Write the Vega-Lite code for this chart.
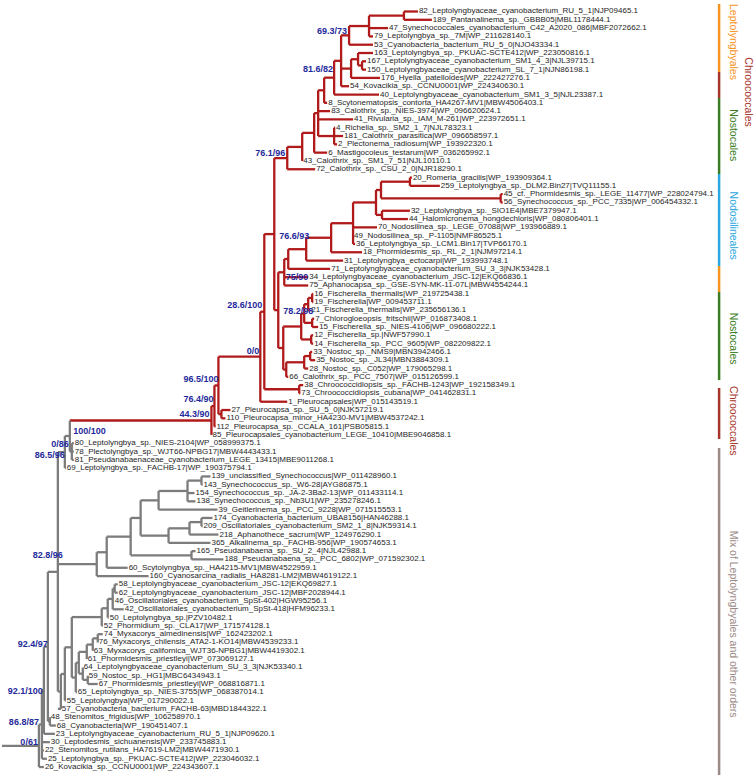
{
"$schema":"https://vega.github.io/schema/vega-lite/v6.json",
"width":756,"height":777,"padding":0,
"autosize":{"type":"fit","contains":"padding"},
"background":"white",
"config":{"view":{"stroke":null},"font":"Liberation Sans"},
"datasets":{
"nodes":[
{"px":368,"x":403,"y":0.5,"y1":0,"y2":1,"g":"r"},
{"px":348,"x":368,"y":1.75,"y1":0.5,"y2":3,"g":"r"},
{"px":340,"x":348,"y":2.875,"y1":1.75,"y2":4,"g":"r"},
{"px":357,"x":361,"y":6.5,"y1":6,"y2":7,"g":"r"},
{"px":350,"x":357,"y":5.75,"y1":5,"y2":6.5,"g":"r"},
{"px":340,"x":350,"y":6.875,"y1":5.75,"y2":8,"g":"r"},
{"px":333,"x":340,"y":5.94,"y1":2.875,"y2":9,"g":"r"},
{"px":323,"x":333,"y":7.97,"y1":5.94,"y2":10,"g":"r"},
{"px":317,"x":323,"y":9.49,"y1":7.97,"y2":11,"g":"r"},
{"px":317,"x":333,"y":15,"y1":14,"y2":16,"g":"r"},
{"px":313,"x":317,"y":12.24,"y1":9.49,"y2":15,"g":"r"},
{"px":301,"x":313,"y":14.62,"y1":12.24,"y2":17,"g":"r"},
{"px":286,"x":301,"y":16.31,"y1":14.62,"y2":18,"g":"r"},
{"px":273,"x":286,"y":17.66,"y1":16.31,"y2":19,"g":"r"},
{"px":380,"x":409,"y":20.5,"y1":20,"y2":21,"g":"r"},
{"px":380,"x":500,"y":22.5,"y1":22,"y2":23,"g":"r"},
{"px":375,"x":380,"y":21.5,"y1":20.5,"y2":22.5,"g":"r"},
{"px":375,"x":381,"y":24.5,"y1":24,"y2":25,"g":"r"},
{"px":352,"x":375,"y":23,"y1":21.5,"y2":24.5,"g":"r"},
{"px":330,"x":352,"y":25.5,"y1":23,"y2":28,"g":"r"},
{"px":305,"x":330,"y":27.25,"y1":25.5,"y2":29,"g":"r"},
{"px":287,"x":305,"y":28.63,"y1":27.25,"y2":30,"g":"r"},
{"px":283,"x":287,"y":29.81,"y1":28.63,"y2":31,"g":"r"},
{"px":277,"x":283,"y":31.41,"y1":29.81,"y2":33,"g":"r"},
{"px":307,"x":311,"y":34.5,"y1":34,"y2":35,"g":"r"},
{"px":303,"x":307,"y":35.25,"y1":34.5,"y2":36,"g":"r"},
{"px":303,"x":311,"y":37.5,"y1":37,"y2":38,"g":"r"},
{"px":300,"x":303,"y":36.38,"y1":35.25,"y2":37.5,"g":"r"},
{"px":300,"x":310,"y":39.5,"y1":39,"y2":40,"g":"r"},
{"px":282,"x":300,"y":37.94,"y1":36.38,"y2":39.5,"g":"r"},
{"px":303,"x":309,"y":41.5,"y1":41,"y2":42,"g":"r"},
{"px":285,"x":303,"y":42.25,"y1":41.5,"y2":43,"g":"r"},
{"px":282,"x":285,"y":43.13,"y1":42.25,"y2":44,"g":"r"},
{"px":277,"x":282,"y":40.53,"y1":37.94,"y2":43.13,"g":"r"},
{"px":273,"x":277,"y":35.97,"y1":31.41,"y2":40.53,"g":"r"},
{"px":263,"x":273,"y":26.81,"y1":17.66,"y2":35.97,"g":"r"},
{"px":263,"x":298,"y":45.5,"y1":45,"y2":46,"g":"r"},
{"px":259,"x":263,"y":36.16,"y1":26.81,"y2":45.5,"g":"r"},
{"px":217,"x":259,"y":41.58,"y1":36.16,"y2":47,"g":"r"},
{"px":217,"x":220,"y":48.5,"y1":48,"y2":49,"g":"r"},
{"px":213,"x":217,"y":45.04,"y1":41.58,"y2":48.5,"g":"r"},
{"px":210,"x":213,"y":47.52,"y1":45.04,"y2":50,"g":"r"},
{"px":68,"x":210,"y":49.26,"y1":47.52,"y2":51,"g":"r"},
{"px":68,"x":70,"y":53,"y1":52,"y2":54,"g":"k"},
{"px":63,"x":68,"y":51.13,"y1":49.26,"y2":53,"g":"k"},
{"px":56,"x":63,"y":53.07,"y1":51.13,"y2":55,"g":"k"},
{"px":186,"x":200,"y":56.5,"y1":56,"y2":57,"g":"k"},
{"px":157,"x":186,"y":57.75,"y1":56.5,"y2":59,"g":"k"},
{"px":139,"x":157,"y":58.88,"y1":57.75,"y2":60,"g":"k"},
{"px":188,"x":200,"y":61.5,"y1":61,"y2":62,"g":"k"},
{"px":167,"x":188,"y":62.25,"y1":61.5,"y2":63,"g":"k"},
{"px":139,"x":167,"y":63.13,"y1":62.25,"y2":64,"g":"k"},
{"px":129,"x":139,"y":61,"y1":58.88,"y2":63.13,"g":"k"},
{"px":129,"x":190,"y":65.5,"y1":65,"y2":66,"g":"k"},
{"px":105,"x":129,"y":63.25,"y1":61,"y2":65.5,"g":"k"},
{"px":95,"x":105,"y":65.13,"y1":63.25,"y2":67,"g":"k"},
{"px":56,"x":95,"y":66.56,"y1":65.13,"y2":68,"g":"k"},
{"px":111,"x":113,"y":69.5,"y1":69,"y2":70,"g":"k"},
{"px":106,"x":111,"y":70.75,"y1":69.5,"y2":72,"g":"k"},
{"px":100,"x":106,"y":71.88,"y1":70.75,"y2":73,"g":"k"},
{"px":70,"x":100,"y":72.94,"y1":71.88,"y2":74,"g":"k"},
{"px":91,"x":96,"y":75.5,"y1":75,"y2":76,"g":"k"},
{"px":85,"x":91,"y":76.25,"y1":75.5,"y2":77,"g":"k"},
{"px":77,"x":85,"y":77.13,"y1":76.25,"y2":78,"g":"k"},
{"px":81,"x":86,"y":80.5,"y1":80,"y2":81,"g":"k"},
{"px":77,"x":81,"y":79.75,"y1":79,"y2":80.5,"g":"k"},
{"px":74,"x":77,"y":78.44,"y1":77.13,"y2":79.75,"g":"k"},
{"px":70,"x":74,"y":80.22,"y1":78.44,"y2":82,"g":"k"},
{"px":63,"x":70,"y":76.58,"y1":72.94,"y2":80.22,"g":"k"},
{"px":59,"x":63,"y":79.79,"y1":76.58,"y2":83,"g":"k"},
{"px":56,"x":59,"y":81.9,"y1":79.79,"y2":84,"g":"k"},
{"px":46,"x":56,"y":67.49,"y1":53.07,"y2":81.9,"g":"k"},
{"px":46,"x":48,"y":85.5,"y1":85,"y2":86,"g":"k"},
{"px":42,"x":46,"y":76.5,"y1":67.49,"y2":85.5,"g":"k"},
{"px":40,"x":42,"y":81.75,"y1":76.5,"y2":87,"g":"k"},
{"px":37,"x":40,"y":85.88,"y1":81.75,"y2":90,"g":"k"},
{"px":0,"x":37,"y":88.44,"y1":85.88,"y2":91,"g":"k"},
{"px":403,"x":417,"y":0,"y1":0,"y2":0,"g":"r","lab":"82_Leptolyngbyaceae_cyanobacterium_RU_5_1|NJP09465.1"},
{"px":403,"x":431,"y":1,"y1":1,"y2":1,"g":"r","lab":"189_Pantanalinema_sp._GBBB05|MBL1178444.1"},
{"px":368,"x":387,"y":2,"y1":2,"y2":2,"g":"r","lab":"47_Synechococcales_cyanobacterium_C42_A2020_086|MBF2072662.1"},
{"px":368,"x":372,"y":3,"y1":3,"y2":3,"g":"r","lab":"79_Leptolyngbya_sp._7M|WP_211628140.1"},
{"px":348,"x":372,"y":4,"y1":4,"y2":4,"g":"r","lab":"53_Cyanobacteria_bacterium_RU_5_0|NJO43334.1"},
{"px":357,"x":372,"y":5,"y1":5,"y2":5,"g":"r","lab":"163_Leptolyngbya_sp._PKUAC-SCTE412|WP_223050816.1"},
{"px":361,"x":365,"y":6,"y1":6,"y2":6,"g":"r","lab":"167_Leptolyngbyaceae_cyanobacterium_SM1_4_3|NJL39715.1"},
{"px":361,"x":365,"y":7,"y1":7,"y2":7,"g":"r","lab":"150_Leptolyngbyaceae_cyanobacterium_SL_7_1|NJN86198.1"},
{"px":350,"x":379,"y":8,"y1":8,"y2":8,"g":"r","lab":"176_Hyella_patelloides|WP_222427276.1"},
{"px":340,"x":348,"y":9,"y1":9,"y2":9,"g":"r","lab":"54_Kovacikia_sp._CCNU0001|WP_224340630.1"},
{"px":333,"x":378,"y":10,"y1":10,"y2":10,"g":"r","lab":"40_Leptolyngbyaceae_cyanobacterium_SM1_3_5|NJL23387.1"},
{"px":323,"x":326,"y":11,"y1":11,"y2":11,"g":"r","lab":"8_Scytonematopsis_contorta_HA4267-MV1|MBW4506403.1"},
{"px":317,"x":329,"y":12,"y1":12,"y2":12,"g":"r","lab":"83_Calothrix_sp._NIES-3974|WP_096620624.1"},
{"px":317,"x":352,"y":13,"y1":13,"y2":13,"g":"r","lab":"41_Rivularia_sp._IAM_M-261|WP_223972651.1"},
{"px":333,"x":334,"y":14,"y1":14,"y2":14,"g":"r","lab":"4_Richelia_sp._SM2_1_7|NJL78323.1"},
{"px":333,"x":342,"y":15,"y1":15,"y2":15,"g":"r","lab":"181_Calothrix_parasitica|WP_096658597.1"},
{"px":333,"x":336,"y":16,"y1":16,"y2":16,"g":"r","lab":"2_Plectonema_radiosum|WP_193922320.1"},
{"px":313,"x":326,"y":17,"y1":17,"y2":17,"g":"r","lab":"6_Mastigocoleus_testarum|WP_036265992.1"},
{"px":301,"x":301,"y":18,"y1":18,"y2":18,"g":"r","lab":"43_Calothrix_sp._SM1_7_51|NJL10110.1"},
{"px":286,"x":314,"y":19,"y1":19,"y2":19,"g":"r","lab":"72_Calothrix_sp._CSU_2_0|NJR18290.1"},
{"px":409,"x":411,"y":20,"y1":20,"y2":20,"g":"r","lab":"20_Romeria_gracilis|WP_193909364.1"},
{"px":409,"x":439,"y":21,"y1":21,"y2":21,"g":"r","lab":"259_Leptolyngbya_sp._DLM2.Bin27|TVQ11155.1"},
{"px":500,"x":502,"y":22,"y1":22,"y2":22,"g":"r","lab":"45_cf._Phormidesmis_sp._LEGE_11477|WP_228024794.1"},
{"px":500,"x":502,"y":23,"y1":23,"y2":23,"g":"r","lab":"56_Synechococcus_sp._PCC_7335|WP_006454332.1"},
{"px":381,"x":409,"y":24,"y1":24,"y2":24,"g":"r","lab":"32_Leptolyngbya_sp._SIO1E4|MBE7379947.1"},
{"px":381,"x":407,"y":25,"y1":25,"y2":25,"g":"r","lab":"44_Halomicronema_hongdechloris|WP_080806401.1"},
{"px":352,"x":376,"y":26,"y1":26,"y2":26,"g":"r","lab":"70_Nodosilinea_sp._LEGE_07088|WP_193966889.1"},
{"px":352,"x":352,"y":27,"y1":27,"y2":27,"g":"r","lab":"49_Nodosilinea_sp._P-1105|NMF86525.1"},
{"px":352,"x":354,"y":28,"y1":28,"y2":28,"g":"r","lab":"36_Leptolyngbya_sp._LCM1.Bin17|TVP66170.1"},
{"px":330,"x":361,"y":29,"y1":29,"y2":29,"g":"r","lab":"18_Phormidesmis_sp._RL_2_1|NJM97214.1"},
{"px":305,"x":342,"y":30,"y1":30,"y2":30,"g":"r","lab":"31_Leptolyngbya_ectocarpi|WP_193993748.1"},
{"px":287,"x":329,"y":31,"y1":31,"y2":31,"g":"r","lab":"71_Leptolyngbyaceae_cyanobacterium_SU_3_3|NJK53428.1"},
{"px":283,"x":307,"y":32,"y1":32,"y2":32,"g":"r","lab":"34_Leptolyngbyaceae_cyanobacterium_JSC-12|EKQ66836.1"},
{"px":283,"x":307,"y":33,"y1":33,"y2":33,"g":"r","lab":"75_Aphanocapsa_sp._GSE-SYN-MK-11-07L|MBW4554244.1"},
{"px":311,"x":312,"y":34,"y1":34,"y2":34,"g":"r","lab":"16_Fischerella_thermalis|WP_219725438.1"},
{"px":311,"x":312,"y":35,"y1":35,"y2":35,"g":"r","lab":"19_Fischerella|WP_009453711.1"},
{"px":307,"x":309,"y":36,"y1":36,"y2":36,"g":"r","lab":"21_Fischerella_thermalis|WP_235656136.1"},
{"px":311,"x":313,"y":37,"y1":37,"y2":37,"g":"r","lab":"7_Chlorogloeopsis_fritschii|WP_016873408.1"},
{"px":311,"x":317,"y":38,"y1":38,"y2":38,"g":"r","lab":"15_Fischerella_sp._NIES-4106|WP_096680222.1"},
{"px":310,"x":312,"y":39,"y1":39,"y2":39,"g":"r","lab":"12_Fischerella_sp.|NWF57990.1"},
{"px":310,"x":312,"y":40,"y1":40,"y2":40,"g":"r","lab":"14_Fischerella_sp._PCC_9605|WP_082209822.1"},
{"px":309,"x":311,"y":41,"y1":41,"y2":41,"g":"r","lab":"33_Nostoc_sp._NMS9|MBN3942466.1"},
{"px":309,"x":314,"y":42,"y1":42,"y2":42,"g":"r","lab":"35_Nostoc_sp._JL34|MBN3884309.1"},
{"px":303,"x":307,"y":43,"y1":43,"y2":43,"g":"r","lab":"28_Nostoc_sp._C052|WP_179065298.1"},
{"px":285,"x":287,"y":44,"y1":44,"y2":44,"g":"r","lab":"66_Calothrix_sp._PCC_7507|WP_015126599.1"},
{"px":298,"x":302,"y":45,"y1":45,"y2":45,"g":"r","lab":"38_Chroococcidiopsis_sp._FACHB-1243|WP_192158349.1"},
{"px":298,"x":299,"y":46,"y1":46,"y2":46,"g":"r","lab":"73_Chroococcidiopsis_cubana|WP_041462831.1"},
{"px":259,"x":286,"y":47,"y1":47,"y2":47,"g":"r","lab":"1_Pleurocapsales|WP_015143519.1"},
{"px":220,"x":229,"y":48,"y1":48,"y2":48,"g":"r","lab":"27_Pleurocapsa_sp._SU_5_0|NJK57219.1"},
{"px":220,"x":224,"y":49,"y1":49,"y2":49,"g":"r","lab":"110_Pleurocapsa_minor_HA4230-MV1|MBW4537242.1"},
{"px":213,"x":214,"y":50,"y1":50,"y2":50,"g":"r","lab":"112_Pleurocapsa_sp._CCALA_161|PSB05815.1"},
{"px":210,"x":210,"y":51,"y1":51,"y2":51,"g":"r","lab":"85_Pleurocapsales_cyanobacterium_LEGE_10410|MBE9046858.1"},
{"px":70,"x":72,"y":52,"y1":52,"y2":52,"g":"k","lab":"80_Leptolyngbya_sp._NIES-2104|WP_058999375.1"},
{"px":70,"x":72,"y":53,"y1":53,"y2":53,"g":"k","lab":"78_Plectolyngbya_sp._WJT66-NPBG17|MBW4443433.1"},
{"px":70,"x":72,"y":54,"y1":54,"y2":54,"g":"k","lab":"81_Pseudanabaenaceae_cyanobacterium_LEGE_13415|MBE9011268.1"},
{"px":63,"x":64,"y":55,"y1":55,"y2":55,"g":"k","lab":"69_Leptolyngbya_sp._FACHB-17|WP_190375794.1"},
{"px":200,"x":209,"y":56,"y1":56,"y2":56,"g":"k","lab":"139_unclassified_Synechococcus|WP_011428960.1"},
{"px":200,"x":201,"y":57,"y1":57,"y2":57,"g":"k","lab":"143_Synechococcus_sp._W6-28|AYG86875.1"},
{"px":186,"x":193,"y":58,"y1":58,"y2":58,"g":"k","lab":"154_Synechococcus_sp._JA-2-3Ba2-13|WP_011433114.1"},
{"px":186,"x":194,"y":59,"y1":59,"y2":59,"g":"k","lab":"138_Synechococcus_sp._Nb3U1|WP_235278246.1"},
{"px":157,"x":216,"y":60,"y1":60,"y2":60,"g":"k","lab":"39_Geitlerinema_sp._PCC_9228|WP_071515553.1"},
{"px":200,"x":211,"y":61,"y1":61,"y2":61,"g":"k","lab":"174_Cyanobacteria_bacterium_UBA8156|HAN46288.1"},
{"px":200,"x":201,"y":62,"y1":62,"y2":62,"g":"k","lab":"209_Oscillatoriales_cyanobacterium_SM2_1_8|NJK59314.1"},
{"px":188,"x":217,"y":63,"y1":63,"y2":63,"g":"k","lab":"218_Aphanothece_sacrum|WP_124976290.1"},
{"px":167,"x":209,"y":64,"y1":64,"y2":64,"g":"k","lab":"365_Alkalinema_sp._FACHB-956|WP_190574653.1"},
{"px":190,"x":194,"y":65,"y1":65,"y2":65,"g":"k","lab":"165_Pseudanabaena_sp._SU_2_4|NJL42988.1"},
{"px":190,"x":222,"y":66,"y1":66,"y2":66,"g":"k","lab":"188_Pseudanabaena_sp._PCC_6802|WP_071592302.1"},
{"px":105,"x":126,"y":67,"y1":67,"y2":67,"g":"k","lab":"60_Scytolyngbya_sp._HA4215-MV1|MBW4522959.1"},
{"px":95,"x":147,"y":68,"y1":68,"y2":68,"g":"k","lab":"160_Cyanosarcina_radialis_HA8281-LM2|MBW4619122.1"},
{"px":113,"x":116,"y":69,"y1":69,"y2":69,"g":"k","lab":"58_Leptolyngbyaceae_cyanobacterium_JSC-12|EKQ69827.1"},
{"px":113,"x":116,"y":70,"y1":70,"y2":70,"g":"k","lab":"62_Leptolyngbyaceae_cyanobacterium_JSC-12|MBF2028944.1"},
{"px":111,"x":112,"y":71,"y1":71,"y2":71,"g":"k","lab":"46_Oscillatoriales_cyanobacterium_SpSt-402|HGW95256.1"},
{"px":111,"x":122,"y":72,"y1":72,"y2":72,"g":"k","lab":"42_Oscillatoriales_cyanobacterium_SpSt-418|HFM96233.1"},
{"px":106,"x":107,"y":73,"y1":73,"y2":73,"g":"k","lab":"50_Leptolyngbya_sp.|PZV10482.1"},
{"px":100,"x":101,"y":74,"y1":74,"y2":74,"g":"k","lab":"52_Phormidium_sp._CLA17|WP_171574128.1"},
{"px":96,"x":101,"y":75,"y1":75,"y2":75,"g":"k","lab":"74_Myxacorys_almedinensis|WP_162423202.1"},
{"px":96,"x":96,"y":76,"y1":76,"y2":76,"g":"k","lab":"76_Myxacorys_chilensis_ATA2-1-KO14|MBW4539233.1"},
{"px":91,"x":91,"y":77,"y1":77,"y2":77,"g":"k","lab":"63_Myxacorys_californica_WJT36-NPBG1|MBW4419302.1"},
{"px":85,"x":85,"y":78,"y1":78,"y2":78,"g":"k","lab":"61_Phormidesmis_priestleyi|WP_073069127.1"},
{"px":81,"x":81,"y":79,"y1":79,"y2":79,"g":"k","lab":"64_Leptolyngbyaceae_cyanobacterium_SU_3_3|NJK53340.1"},
{"px":86,"x":86,"y":80,"y1":80,"y2":80,"g":"k","lab":"59_Nostoc_sp._HG1|MBC6434943.1"},
{"px":86,"x":96,"y":81,"y1":81,"y2":81,"g":"k","lab":"67_Phormidesmis_priestleyi|WP_068816871.1"},
{"px":74,"x":75,"y":82,"y1":82,"y2":82,"g":"k","lab":"65_Leptolyngbya_sp._NIES-3755|WP_068387014.1"},
{"px":63,"x":64,"y":83,"y1":83,"y2":83,"g":"k","lab":"55_Leptolyngbya|WP_017290022.1"},
{"px":56,"x":59,"y":84,"y1":84,"y2":84,"g":"k","lab":"57_Cyanobacteria_bacterium_FACHB-63|MBD1844322.1"},
{"px":48,"x":48,"y":85,"y1":85,"y2":85,"g":"k","lab":"48_Stenomitos_frigidus|WP_106258970.1"},
{"px":48,"x":54,"y":86,"y1":86,"y2":86,"g":"k","lab":"68_Cyanobacteria|WP_190451407.1"},
{"px":42,"x":53,"y":87,"y1":87,"y2":87,"g":"k","lab":"23_Leptolyngbyaceae_cyanobacterium_RU_5_1|NJP09620.1"},
{"px":40,"x":48,"y":88,"y1":88,"y2":88,"g":"k","lab":"30_Leptodesmis_sichuanensis|WP_233745883.1"},
{"px":40,"x":42,"y":89,"y1":89,"y2":89,"g":"k","lab":"22_Stenomitos_rutilans_HA7619-LM2|MBW4471930.1"},
{"px":40,"x":45,"y":90,"y1":90,"y2":90,"g":"k","lab":"25_Leptolyngbya_sp._PKUAC-SCTE412|WP_223046032.1"},
{"px":37,"x":42,"y":91,"y1":91,"y2":91,"g":"k","lab":"26_Kovacikia_sp._CCNU0001|WP_224343607.1"}
],
"boot":[
{"t":"69.3/73","x":346,"y":2.35},
{"t":"81.6/82","x":332,"y":6.93},
{"t":"76.1/96","x":284,"y":17.04},
{"t":"76.6/93","x":308,"y":27.04},
{"t":"75/90","x":307,"y":31.98},
{"t":"78.2/98","x":312,"y":36.07},
{"t":"28.6/100","x":261,"y":35.35},
{"t":"0/0","x":258,"y":40.89},
{"t":"96.5/100","x":217,"y":44.27},
{"t":"76.4/90","x":212,"y":46.68},
{"t":"44.3/90","x":208,"y":48.48},
{"t":"100/100","x":104,"y":50.53},
{"t":"0/86","x":67,"y":52.05},
{"t":"86.5/96","x":63,"y":53.4},
{"t":"82.8/96","x":61,"y":65.47},
{"t":"92.4/97","x":46,"y":76.19},
{"t":"92.1/100","x":41,"y":81.85},
{"t":"86.8/87","x":37,"y":85.58},
{"t":"0/61","x":36,"y":87.99}
],
"bars":[
{"clade":"Leptolyngbyales","a":-0.9,"b":7.29},
{"clade":"Chroococcales","a":7.29,"b":10.42},
{"clade":"Nostocales","a":10.42,"b":19.57},
{"clade":"Nodosilineales","a":19.57,"b":30.66},
{"clade":"Leptolyngbyales","a":30.66,"b":33.79},
{"clade":"Nostocales","a":33.79,"b":44.39},
{"clade":"Chroococcales","a":45.35,"b":51.49},
{"clade":"Mix","a":52.58,"b":91.96}
],
"cladelabels":[
{"clade":"Leptolyngbyales","t":"Leptolyngbyales","m":3.67,"col":"inner"},
{"clade":"Chroococcales","t":"Chroococcales","m":9.7,"col":"outer"},
{"clade":"Nostocales","t":"Nostocales","m":14.9,"col":"inner"},
{"clade":"Nodosilineales","t":"Nodosilineales","m":25.8,"col":"inner"},
{"clade":"Nostocales","t":"Nostocales","m":39.4,"col":"inner"},
{"clade":"Chroococcales","t":"Chroococcales","m":49.3,"col":"inner"},
{"clade":"Mix","t":"Mix of Leptolyngbyales and other orders","m":73.8,"col":"inner"}
]
},
"layer":[
{"data":{"name":"nodes"},"mark":{"type":"rule","strokeWidth":2.3},
 "encoding":{
  "x":{"field":"px","type":"quantitative","scale":{"domain":[0,756],"nice":false,"zero":false},"axis":null},
  "x2":{"field":"x"},
  "y":{"field":"y","type":"quantitative","scale":{"domain":[-1.385,92.2],"nice":false,"zero":false,"reverse":true},"axis":null},
  "color":{"field":"g","type":"nominal","legend":null,"scale":{"domain":["r","k","Leptolyngbyales","Chroococcales","Nostocales","Nodosilineales","Mix"],"range":["#b01a1a","#7c7c7c","#f7931e","#a8352b","#3b7d23","#2aa7e0","#9c8a86"]}}
 }},
{"data":{"name":"nodes"},"transform":[{"filter":"datum.y1 < datum.y2"}],"mark":{"type":"rule","strokeWidth":2.3},
 "encoding":{
  "x":{"field":"x","type":"quantitative","scale":{"domain":[0,756],"nice":false,"zero":false},"axis":null},
  "y":{"field":"y1","type":"quantitative","scale":{"domain":[-1.385,92.2],"nice":false,"zero":false,"reverse":true},"axis":null},
  "y2":{"field":"y2"},
  "color":{"field":"g","type":"nominal","legend":null}
 }},
{"data":{"name":"nodes"},"transform":[{"filter":"isValid(datum.lab)"}],"mark":{"type":"text","align":"left","baseline":"middle","dx":1,"fontSize":8,"font":"Liberation Sans","color":"#1e1e1e"},
 "encoding":{
  "x":{"field":"x","type":"quantitative","axis":null},
  "y":{"field":"y","type":"quantitative","axis":null},
  "text":{"field":"lab"}
 }},
{"data":{"name":"boot"},"mark":{"type":"text","align":"right","baseline":"middle","fontSize":9,"fontWeight":"bold","font":"Liberation Sans","color":"#1f2a9c"},
 "encoding":{
  "x":{"field":"x","type":"quantitative","axis":null},
  "y":{"field":"y","type":"quantitative","axis":null},
  "text":{"field":"t"}
 }},
{"data":{"name":"bars"},"mark":{"type":"rule","strokeWidth":2.5},
 "encoding":{
  "x":{"datum":719,"type":"quantitative"},
  "y":{"field":"a","type":"quantitative","axis":null},
  "y2":{"field":"b"},
  "color":{"field":"clade","type":"nominal","legend":null}
 }},
{"data":{"name":"cladelabels"},"transform":[{"filter":"datum.col == 'inner'"}],"mark":{"type":"text","angle":90,"align":"center","baseline":"middle","fontSize":10.5,"font":"Liberation Sans"},
 "encoding":{
  "x":{"datum":733,"type":"quantitative"},
  "y":{"field":"m","type":"quantitative","axis":null},
  "text":{"field":"t"},
  "color":{"field":"clade","type":"nominal","legend":null}
 }},
{"data":{"name":"cladelabels"},"transform":[{"filter":"datum.col == 'outer'"}],"mark":{"type":"text","angle":90,"align":"center","baseline":"middle","fontSize":10.5,"font":"Liberation Sans"},
 "encoding":{
  "x":{"datum":748,"type":"quantitative"},
  "y":{"field":"m","type":"quantitative","axis":null},
  "text":{"field":"t"},
  "color":{"field":"clade","type":"nominal","legend":null}
 }}
]
}
